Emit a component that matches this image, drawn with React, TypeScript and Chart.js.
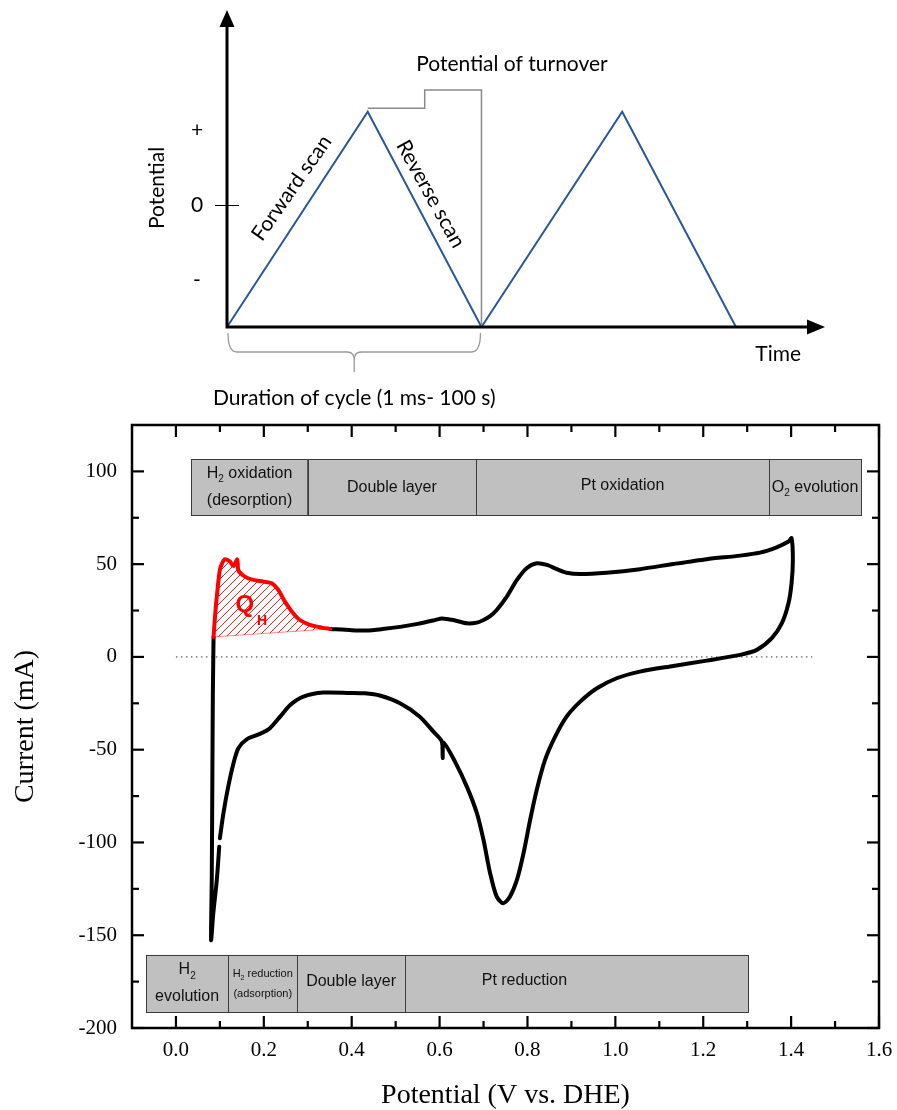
import React, { useEffect, useRef } from 'react';
import { Chart, registerables } from 'chart.js';

Chart.register(...registerables);

// ---------- Top schematic: triangular potential waveform ----------
const waveTime = [0, 0.553, 1, 1.553, 2];
const wavePotential = [-1.627, 1.244, -1.627, 1.244, -1.627];
const potentialLevels = [1, 0, -1];
const potentialLevelLabels = ['+', '0', '-'];
const turnoverBracketTime = [0.553, 0.777, 0.777, 1.0, 1.0];
const turnoverBracketPotential = [1.29, 1.29, 1.533, 1.533, -1.627];

// ---------- Cyclic voltammogram ----------
// black path: forward scan (after the H desorption region) -> reverse scan -> back up
const cvPotential = [
  0.351, 0.4, 0.434, 0.47, 0.51, 0.55, 0.585, 0.601, 0.616, 0.631, 0.662, 0.685, 0.7, 0.715, 0.73,
  0.753, 0.776, 0.798, 0.821, 0.844, 0.867, 0.889, 0.92, 0.98, 1.056, 1.132, 1.208, 1.284, 1.329,
  1.367, 1.394, 1.401,
  1.404, 1.401, 1.394, 1.379, 1.356, 1.322, 1.284, 1.208, 1.132, 1.056, 1.003, 0.958, 0.92, 0.889,
  0.863, 0.84, 0.821, 0.806, 0.791, 0.776, 0.76, 0.745, 0.73, 0.715, 0.7, 0.685, 0.662, 0.635,
  0.609, 0.607, 0.605, 0.586, 0.555, 0.51, 0.464, 0.43, 0.396, 0.335, 0.29, 0.26, 0.237, 0.214,
  0.191, 0.161, 0.142, 0.131, 0.119, 0.108, 0.1, 0.099, 0.0985, 0.093, 0.085, 0.08,
  0.0815, 0.083, 0.084, 0.0856,
];
const cvCurrent = [
  15.1, 14.4, 14.2, 15.0, 16.2, 17.8, 19.6, 20.6, 20.5, 19.9, 18.1, 18.5, 19.9, 22.0, 25.3,
  32.5, 41.5, 47.8, 50.5, 49.6, 47.3, 45.4, 44.7, 45.4, 47.3, 50.1, 52.7, 54.6, 56.2,
  59.1, 62.2, 64.0,
  52.3, 39.7, 28.9, 18.2, 10.1, 3.8, 1.1, -2.0, -4.9, -7.9, -11.5, -16.9, -24.1, -32.2,
  -43.0, -55.5, -71.7, -87.9, -105.8, -120.2, -129.2, -132.8, -129.2, -116.6, -98.7, -84.3, -69.9, -56.4,
  -46.2, -54.5, -45.5, -40.3, -32.2, -25.0, -20.8, -19.6, -19.4, -19.2, -21.4, -25.9, -32.2, -38.4,
  -41.5, -44.4, -49.2, -57.3, -69.9, -84.3, -97.7, null, -102.3, -120.2, -138.2, -152.6,
  -120.0, -60.0, -20.0, 10.8,
];
// red: hydrogen desorption charge Q_H region
const qhPotential = [
  0.0856, 0.089, 0.093, 0.1, 0.106, 0.112, 0.123, 0.131, 0.1395, 0.1425, 0.157, 0.176, 0.199,
  0.218, 0.233, 0.248, 0.264, 0.282, 0.305, 0.332, 0.351,
];
const qhCurrent = [
  10.8, 22.0, 32.5, 47.0, 51.0, 52.7, 51.4, 49.0, 52.5, 46.5, 43.3, 41.5, 40.6,
  39.7, 36.1, 29.8, 24.4, 19.9, 17.3, 15.8, 15.1,
];
const qhBasePotential = [0.0856, 0.351];
const qhBaseCurrent = [10.8, 15.1];
const zeroLinePotential = [0, 1.448];
const zeroLineCurrent = [0, 0];

const xTickValues = [0, 0.2, 0.4, 0.6, 0.8, 1.0, 1.2, 1.4, 1.6];
const xMinorValues = [0.1, 0.3, 0.5, 0.7, 0.9, 1.1, 1.3, 1.5];
const yTickValues = [-200, -150, -100, -50, 0, 50, 100];
const yMinorValues = [-175, -125, -75, -25, 25, 75];

const oxidationRegionEdges = [0.035, 0.3, 0.683, 1.35, 1.559];
const oxidationRegionCurrent = [76.5, 106.5];
const oxidationRegionLabels = [['H_2 oxidation', '(desorption)'], ['Double layer'], ['Pt oxidation'], ['O_2 evolution']];
const reductionRegionEdges = [-0.068, 0.119, 0.276, 0.521, 1.302];
const reductionRegionCurrent = [-191.4, -160.6];
const reductionRegionLabels = [['H_2', 'evolution'], ['H_2 reduction', '(adsorption)'], ['Double layer'], ['Pt reduction']];

// label styling (layout only)
const oxidationLabelStyle = [
  { size: 16, gap: 27, dy: 0 },
  { size: 16, gap: 27, dy: 0 },
  { size: 16, gap: 27, dy: -2 },
  { size: 16, gap: 27, dy: 0 },
];
const reductionLabelStyle = [
  { size: 16, gap: 27, dy: 0 },
  { size: 11, gap: 20, dy: 0 },
  { size: 16, gap: 27, dy: -2 },
  { size: 16, gap: 27, dy: -3, center: 0.793 },
];

const SERIF = '"Liberation Serif", "Times New Roman", serif';
const SANS = '"Liberation Sans", Arial, sans-serif';
const CALIBRI = 'Lato, "Open Sans", sans-serif';
const BLUE = '#2b5893';

function drawRich(ctx: any, text: string, cx: number, cy: number, size: number) {
  const segs: { t: string; sub: boolean }[] = [];
  let buf = '';
  for (let i = 0; i < text.length; i++) {
    if (text[i] === '_') {
      if (buf) segs.push({ t: buf, sub: false });
      buf = '';
      segs.push({ t: text[i + 1], sub: true });
      i++;
    } else buf += text[i];
  }
  if (buf) segs.push({ t: buf, sub: false });
  const mainFont = `${size}px ${SANS}`;
  const subFont = `${Math.round(size * 0.6)}px ${SANS}`;
  let total = 0;
  const widths = segs.map((s) => {
    ctx.font = s.sub ? subFont : mainFont;
    const w = ctx.measureText(s.t).width;
    total += w;
    return w;
  });
  let x = cx - total / 2;
  ctx.textAlign = 'left';
  ctx.textBaseline = 'middle';
  segs.forEach((s, i) => {
    ctx.font = s.sub ? subFont : mainFont;
    ctx.fillText(s.t, x, s.sub ? cy + size * 0.38 : cy);
    x += widths[i];
  });
}

function makeHatch() {
  const c = document.createElement('canvas');
  c.width = 8;
  c.height = 8;
  const g = c.getContext('2d') as CanvasRenderingContext2D;
  g.strokeStyle = '#ff1a1a';
  g.lineWidth = 1;
  g.beginPath();
  g.moveTo(0, 8);
  g.lineTo(8, 0);
  g.moveTo(-1, 1);
  g.lineTo(1, -1);
  g.moveTo(7, 9);
  g.lineTo(9, 7);
  g.stroke();
  return g.createPattern(c, 'repeat');
}

const regionPlugin = {
  id: 'regions',
  beforeDatasetsDraw(chart: any) {
    const { ctx, scales } = chart;
    const x = scales.x;
    const y = scales.y;
    const rows = [
      { edges: oxidationRegionEdges, current: oxidationRegionCurrent, labels: oxidationRegionLabels, style: oxidationLabelStyle },
      { edges: reductionRegionEdges, current: reductionRegionCurrent, labels: reductionRegionLabels, style: reductionLabelStyle },
    ];
    ctx.save();
    rows.forEach((row) => {
      const yTop = y.getPixelForValue(row.current[1]);
      const yBot = y.getPixelForValue(row.current[0]);
      for (let i = 0; i < row.edges.length - 1; i++) {
        const x0 = x.getPixelForValue(row.edges[i]);
        const x1 = x.getPixelForValue(row.edges[i + 1]);
        ctx.fillStyle = '#c0c0c0';
        ctx.fillRect(x0, yTop, x1 - x0, yBot - yTop);
        ctx.strokeStyle = '#3c3c3c';
        ctx.lineWidth = 1;
        ctx.strokeRect(Math.round(x0) + 0.5, Math.round(yTop) + 0.5, Math.round(x1 - x0), Math.round(yBot - yTop));
        const st: any = row.style[i];
        const cx = st.center != null ? x.getPixelForValue(st.center) : (x0 + x1) / 2;
        const cy = (yTop + yBot) / 2 + (st.dy || 0);
        const n = row.labels[i].length;
        ctx.fillStyle = '#111';
        row.labels[i].forEach((line: string, j: number) => drawRich(ctx, line, cx, cy + (j - (n - 1) / 2) * st.gap, st.size));
      }
    });
    ctx.restore();
  },
  afterDatasetsDraw(chart: any) {
    const { ctx, scales } = chart;
    const x = scales.x;
    const y = scales.y;
    ctx.save();
    ctx.fillStyle = '#ff0000';
    ctx.textAlign = 'center';
    ctx.textBaseline = 'middle';
    ctx.font = `bold 24px ${SANS}`;
    ctx.fillText('Q', x.getPixelForValue(0.157), y.getPixelForValue(28));
    ctx.font = `bold 14px ${SANS}`;
    ctx.fillText('H', x.getPixelForValue(0.196), y.getPixelForValue(19.4));
    ctx.restore();
  },
};

const framePlugin = {
  id: 'frame',
  afterDraw(chart: any) {
    const { ctx, chartArea: a, scales } = chart;
    const x = scales.x;
    const y = scales.y;
    ctx.save();
    ctx.strokeStyle = '#000';
    ctx.lineWidth = 2.5;
    ctx.strokeRect(a.left, a.top, a.right - a.left, a.bottom - a.top);
    ctx.lineWidth = 2.2;
    const seg = (x1: number, y1: number, x2: number, y2: number) => {
      ctx.beginPath();
      ctx.moveTo(x1, y1);
      ctx.lineTo(x2, y2);
      ctx.stroke();
    };
    xTickValues.forEach((v) => {
      const p = x.getPixelForValue(v);
      seg(p, a.bottom, p, a.bottom - 12);
      seg(p, a.top, p, a.top + 12);
    });
    xMinorValues.forEach((v) => {
      const p = x.getPixelForValue(v);
      seg(p, a.bottom, p, a.bottom - 7);
      seg(p, a.top, p, a.top + 7);
    });
    yTickValues.forEach((v) => {
      const p = y.getPixelForValue(v);
      seg(a.left, p, a.left + 12, p);
      seg(a.right, p, a.right - 12, p);
    });
    yMinorValues.forEach((v) => {
      const p = y.getPixelForValue(v);
      seg(a.left, p, a.left + 7, p);
      seg(a.right, p, a.right - 7, p);
    });
    ctx.restore();
  },
};

const topNotes = [
  { text: 'Potential of turnover', t: 1.12, e: 1.88, angle: 0 },
  { text: 'Forward scan', t: 0.254, e: 0.227, angle: -55 },
  { text: 'Reverse scan', t: 0.8, e: 0.147, angle: 61 },
  { text: 'Time', t: 2.166, e: -1.987, angle: 0 },
  { text: 'Duration of cycle (1 ms- 100 s)', t: 0.5, e: -2.573, angle: 0 },
  { text: 'Potential', t: -0.276, e: 0.227, angle: -90 },
];

const topPlugin = {
  id: 'topDiagram',
  afterDatasetsDraw(chart: any) {
    const { ctx, chartArea: a, scales } = chart;
    const x = scales.x;
    const y = scales.y;
    const x0 = x.getPixelForValue(0);
    const x1 = x.getPixelForValue(1);
    const yb = y.getPixelForValue(wavePotential[0]);
    ctx.save();
    // potential of turnover bracket
    ctx.strokeStyle = '#8a8a8a';
    ctx.lineWidth = 1.5;
    ctx.beginPath();
    turnoverBracketTime.forEach((t, i) => {
      const px = x.getPixelForValue(t);
      const py = y.getPixelForValue(turnoverBracketPotential[i]);
      if (i === 0) ctx.moveTo(px, py);
      else ctx.lineTo(px, py);
    });
    ctx.stroke();
    // brace under one cycle
    const mid = (x0 + x1) / 2;
    ctx.strokeStyle = '#9a9a9a';
    ctx.lineWidth = 1.3;
    ctx.beginPath();
    ctx.moveTo(x0 + 1, yb + 6);
    ctx.quadraticCurveTo(x0 + 1, yb + 25, x0 + 10, yb + 25);
    ctx.lineTo(mid - 7, yb + 25);
    ctx.quadraticCurveTo(mid, yb + 25, mid, yb + 33);
    ctx.lineTo(mid, yb + 45);
    ctx.moveTo(mid, yb + 33);
    ctx.quadraticCurveTo(mid, yb + 25, mid + 7, yb + 25);
    ctx.lineTo(x1 - 10, yb + 25);
    ctx.quadraticCurveTo(x1 - 1, yb + 25, x1 - 1, yb + 6);
    ctx.stroke();
    // axes with arrows
    ctx.strokeStyle = '#000';
    ctx.fillStyle = '#000';
    ctx.lineWidth = 3;
    ctx.beginPath();
    ctx.moveTo(x0, yb + 1.5);
    ctx.lineTo(x0, a.top + 12);
    ctx.moveTo(x0 - 1.5, yb);
    ctx.lineTo(a.right - 12, yb);
    ctx.stroke();
    ctx.beginPath();
    ctx.moveTo(x0, a.top);
    ctx.lineTo(x0 - 7.5, a.top + 17);
    ctx.lineTo(x0 + 7.5, a.top + 17);
    ctx.closePath();
    ctx.fill();
    ctx.beginPath();
    ctx.moveTo(a.right, yb);
    ctx.lineTo(a.right - 18, yb - 7.5);
    ctx.lineTo(a.right - 18, yb + 7.5);
    ctx.closePath();
    ctx.fill();
    // potential levels
    ctx.textAlign = 'center';
    ctx.textBaseline = 'middle';
    ctx.font = `21px ${CALIBRI}`;
    potentialLevels.forEach((v, i) => {
      ctx.fillText(potentialLevelLabels[i], x.getPixelForValue(-0.118), y.getPixelForValue(v));
    });
    ctx.lineWidth = 1;
    ctx.beginPath();
    ctx.moveTo(x0 - 12, Math.round(y.getPixelForValue(0)) + 0.5);
    ctx.lineTo(x0 + 12, Math.round(y.getPixelForValue(0)) + 0.5);
    ctx.stroke();
    // notes
    topNotes.forEach((n) => {
      ctx.save();
      ctx.translate(x.getPixelForValue(n.t), y.getPixelForValue(n.e));
      ctx.rotate((n.angle * Math.PI) / 180);
      ctx.fillStyle = '#000';
      ctx.font = `21px ${CALIBRI}`;
      ctx.fillText(n.text, 0, 0);
      ctx.restore();
    });
    ctx.restore();
  },
};

export default function App() {
  const topRef = useRef<HTMLCanvasElement>(null);
  const cvRef = useRef<HTMLCanvasElement>(null);

  useEffect(() => {
    const top = new Chart(topRef.current as HTMLCanvasElement, {
      type: 'line',
      data: {
        datasets: [
          {
            data: waveTime.map((t, i) => ({ x: t, y: wavePotential[i] })),
            borderColor: BLUE,
            borderWidth: 2,
            pointRadius: 0,
            tension: 0,
          },
        ],
      },
      options: {
        animation: false,
        responsive: false,
        layout: { padding: { left: 227, right: 72, top: 10, bottom: 88 } },
        plugins: { legend: { display: false }, tooltip: { enabled: false } },
        scales: {
          x: { type: 'linear', display: false, min: 0, max: 2.35 },
          y: { type: 'linear', display: false, min: -1.627, max: 2.6 },
        },
      },
      plugins: [topPlugin],
    } as any);

    const hatch = makeHatch();
    const cv = new Chart(cvRef.current as HTMLCanvasElement, {
      type: 'line',
      data: {
        datasets: [
          {
            data: qhPotential.map((v, i) => ({ x: v, y: qhCurrent[i] })),
            borderColor: '#ff0000',
            borderWidth: 4,
            backgroundColor: hatch,
            fill: 2,
            pointRadius: 0,
            tension: 0.3,
            borderCapStyle: 'round',
            borderJoinStyle: 'round',
          },
          {
            data: cvPotential.map((v, i) => ({ x: v, y: cvCurrent[i] })),
            borderColor: '#000',
            borderWidth: 4,
            pointRadius: 0,
            tension: 0.25,
            fill: false,
            borderCapStyle: 'round',
            borderJoinStyle: 'round',
          },
          {
            data: qhBasePotential.map((v, i) => ({ x: v, y: qhBaseCurrent[i] })),
            borderColor: 'rgba(255,60,60,0.6)',
            borderWidth: 1,
            pointRadius: 0,
            fill: false,
          },
          {
            data: zeroLinePotential.map((v, i) => ({ x: v, y: zeroLineCurrent[i] })),
            borderColor: '#333',
            borderWidth: 1,
            borderDash: [1.5, 3.5],
            pointRadius: 0,
            fill: false,
          },
        ],
      },
      options: {
        animation: false,
        responsive: false,
        layout: { padding: { top: 10, right: 18, left: 0, bottom: 0 } },
        plugins: { legend: { display: false }, tooltip: { enabled: false } },
        scales: {
          x: {
            type: 'linear',
            min: -0.1,
            max: 1.6,
            grid: { display: false, drawTicks: false },
            border: { display: false },
            afterBuildTicks: (s: any) => {
              s.ticks = xTickValues.map((v) => ({ value: v }));
            },
            afterFit: (s: any) => {
              s.height = 82;
              s.paddingLeft = 0;
              s.paddingRight = 0;
            },
            ticks: {
              padding: 10,
              color: '#000',
              autoSkip: false,
              maxRotation: 0,
              font: { family: SERIF, size: 21 },
              callback: (v: any) => Number(v).toFixed(1),
            },
            title: {
              display: true,
              text: 'Potential (V vs. DHE)',
              color: '#000',
              font: { family: SERIF, size: 28, lineHeight: 1 },
              padding: { top: 0, bottom: 0 },
            },
          },
          y: {
            type: 'linear',
            min: -200,
            max: 125,
            grid: { display: false, drawTicks: false },
            border: { display: false },
            afterBuildTicks: (s: any) => {
              s.ticks = yTickValues.map((v) => ({ value: v }));
            },
            afterFit: (s: any) => {
              s.width = 132;
              s.paddingTop = 0;
              s.paddingBottom = 0;
            },
            ticks: {
              padding: 15,
              color: '#000',
              autoSkip: false,
              font: { family: SERIF, size: 21 },
              callback: (v: any) => String(v),
            },
            title: {
              display: true,
              text: 'Current (mA)',
              color: '#000',
              font: { family: SERIF, size: 28, lineHeight: 1 },
              padding: { top: 12, bottom: 0 },
            },
          },
        },
      },
      plugins: [regionPlugin, framePlugin],
    } as any);

    return () => {
      top.destroy();
      cv.destroy();
    };
  }, []);

  return (
    <div style={{ position: 'absolute', left: 0, top: 0, width: 897, height: 1110, background: '#fff' }}>
      <canvas ref={topRef} width={897} height={415} style={{ position: 'absolute', left: 0, top: 0, display: 'block' }} />
      <canvas ref={cvRef} width={897} height={695} style={{ position: 'absolute', left: 0, top: 415, display: 'block' }} />
    </div>
  );
}
